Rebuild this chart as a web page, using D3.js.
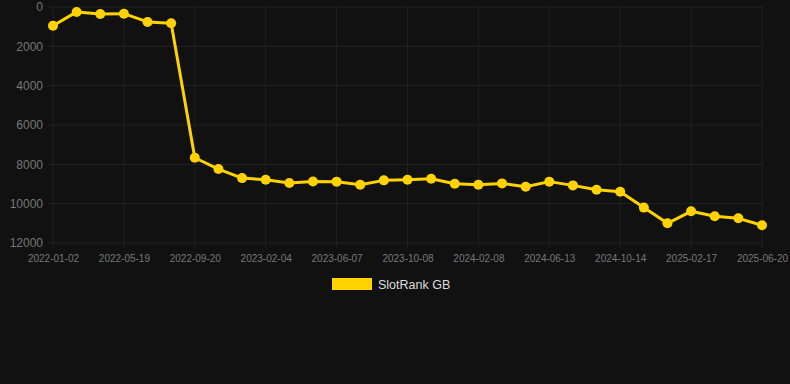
<!DOCTYPE html>
<html lang="en">
<head>
    <meta charset="UTF-8">
    <title>SlotRank GB</title>
    <script src="https://cdn.jsdelivr.net/npm/d3@7"></script>
    <style>
        body { margin: 0; background: #111111; }
        svg { display: block; font-family: "Liberation Sans", Arial, sans-serif; }
    </style>
</head>
<body>
    <script>
        var width = 790, height = 384;
        var margin = { left: 53, right: 28, top: 7, bottom: 141 };

        // dates (every third one is shown on the axis)
        var dates = ["2022-01-02","2022-02-17","2022-04-04","2022-05-19","2022-07-04","2022-08-12",
                     "2022-09-20","2022-11-05","2022-12-20","2023-02-04","2023-03-17","2023-04-27",
                     "2023-06-07","2023-07-18","2023-08-28","2023-10-08","2023-11-18","2023-12-29",
                     "2024-02-08","2024-03-20","2024-05-02","2024-06-13","2024-07-24","2024-09-03",
                     "2024-10-14","2024-11-25","2025-01-06","2025-02-17","2025-03-30","2025-05-10",
                     "2025-06-20"];
        var ranks = [950, 250, 355, 340, 760, 830,
                     7665, 8240, 8700, 8780, 8950, 8870,
                     8880, 9035, 8815, 8780, 8730, 8985,
                     9035, 8970, 9140, 8880, 9070, 9290,
                     9390, 10200, 11000, 10390, 10640, 10745,
                     11100];
        var yTicks = [0, 2000, 4000, 6000, 8000, 10000, 12000];
        var seriesName = "SlotRank GB";
        var lineColor = "#FFD200";

        var svg = d3.select("body").append("svg").attr("width", width).attr("height", height);
        var innerW = width - margin.left - margin.right;
        var innerH = height - margin.top - margin.bottom;

        var x = d3.scalePoint().domain(dates).range([0, innerW]);
        var y = d3.scaleLinear().domain([0, 12000]).range([0, innerH]);

        var g = svg.append("g").attr("transform", "translate(" + margin.left + "," + margin.top + ")");

        // grid
        var shown = dates.filter(function(d, i) { return i % 3 === 0; });
        g.selectAll(".vgrid").data(shown).enter().append("line")
            .attr("x1", function(d) { return x(d); }).attr("x2", function(d) { return x(d); })
            .attr("y1", 0).attr("y2", innerH + 5)
            .attr("stroke", "rgba(255,255,255,0.06)");
        g.selectAll(".hgrid").data(yTicks).enter().append("line")
            .attr("x1", -5).attr("x2", innerW)
            .attr("y1", function(d) { return y(d); }).attr("y2", function(d) { return y(d); })
            .attr("stroke", "rgba(255,255,255,0.07)");

        // axes
        var yAxis = g.append("g").call(d3.axisLeft(y).tickValues(yTicks).tickSize(0).tickPadding(10).tickFormat(d3.format("d")));
        yAxis.select(".domain").remove();
        yAxis.selectAll("text").attr("fill", "#777").attr("font-size", 12).attr("font-family", "Liberation Sans, Arial, sans-serif");

        var xAxis = g.append("g").attr("transform", "translate(0," + innerH + ")")
            .call(d3.axisBottom(x).tickValues(shown).tickSize(0).tickPadding(12));
        xAxis.select(".domain").remove();
        xAxis.selectAll("text").attr("fill", "#777").attr("font-size", 10).attr("font-family", "Liberation Sans, Arial, sans-serif");

        // line
        var line = d3.line()
            .x(function(d, i) { return x(dates[i]); })
            .y(function(d) { return y(d); });
        g.append("path").datum(ranks)
            .attr("fill", "none")
            .attr("stroke", lineColor)
            .attr("stroke-width", 3)
            .attr("stroke-linejoin", "round")
            .attr("d", line);
        g.selectAll(".pt").data(ranks).enter().append("circle")
            .attr("cx", function(d, i) { return x(dates[i]); })
            .attr("cy", function(d) { return y(d); })
            .attr("r", 5)
            .attr("fill", lineColor);

        // legend
        var legend = svg.append("g").attr("transform", "translate(332,278)");
        legend.append("rect").attr("width", 40).attr("height", 12).attr("fill", lineColor);
        legend.append("text").attr("x", 46).attr("y", 10.5)
            .attr("fill", "#dddddd").attr("font-size", 12.5).text(seriesName);
    </script>
</body>
</html>
